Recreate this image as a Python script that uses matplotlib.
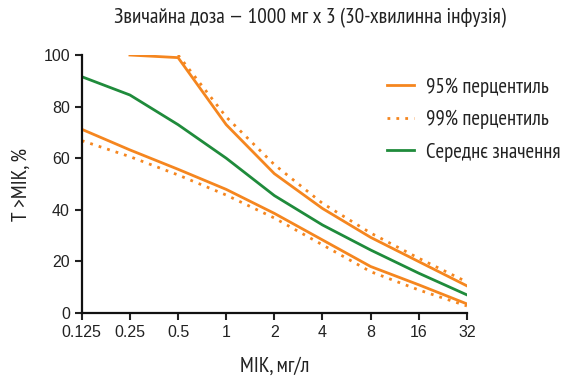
import matplotlib
matplotlib.use("Agg")
import matplotlib.pyplot as plt

narrow = ["PT Sans Narrow", "DejaVu Sans"]

mic = [0.125, 0.25, 0.5, 1, 2, 4, 8, 16, 32]
tick_labels = ["0.125", "0.25", "0.5", "1", "2", "4", "8", "16", "32"]

p95_upper_x = [0.25, 0.5, 1, 2, 4, 8, 16, 32]
p95_upper = [100, 99, 73, 54, 40.5, 29.3, 19.9, 10.5]
p99_upper_x = [0.5, 1, 2, 4, 8, 16, 32]
p99_upper = [100, 76, 57.5, 42.5, 31, 21.2, 12]
mean_vals = [91.6, 84.5, 73, 60, 45.5, 34.1, 24.4, 15.4, 7]
p95_lower = [71.2, 63.2, 55.7, 47.9, 38.6, 28.3, 18, 10.9, 3.5]
p99_lower = [66.8, 60.6, 53.5, 45.7, 36.8, 26.4, 16, 8.9, 2.7]

orange = "#F5861F"
green = "#1F8B3B"

fig = plt.figure(figsize=(5.68, 3.77), dpi=100)
ax = fig.add_axes([0.144, 0.170, 0.678, 0.684])

ax.plot(p95_upper_x, p95_upper, color=orange, lw=2, label="95% перцентиль")
ax.plot(p99_upper_x, p99_upper, color=orange, lw=2, ls=(0, (1, 2.2)), label="99% перцентиль")
ax.plot(mic, mean_vals, color=green, lw=2, label="Середнє значення")
ax.plot(mic, p95_lower, color=orange, lw=2)
ax.plot(mic, p99_lower, color=orange, lw=2, ls=(0, (1, 2.2)))

ax.set_xscale("log", base=2)
ax.set_xlim(0.125, 32)
ax.set_ylim(0, 100)
ax.set_xticks(mic)
ax.set_xticklabels(tick_labels)
ax.minorticks_off()
ax.set_yticks([0, 20, 40, 60, 80, 100])
ax.tick_params(axis="both", direction="out", length=5, width=1.5, labelsize=11.5, colors="#222222")
for lbl in ax.get_xticklabels() + ax.get_yticklabels():
    lbl.set_family("Liberation Sans")
for s in ["top", "right"]:
    ax.spines[s].set_visible(False)
for s in ["left", "bottom"]:
    ax.spines[s].set_linewidth(1.6)
    ax.spines[s].set_color("#111111")

ax.set_xlabel("MIK, мг/л", family=narrow, fontsize=15.5, labelpad=12, color="#222222")
ax.set_ylabel("T >MIK, %", family=narrow, fontsize=15.5, labelpad=9, color="#222222")

fig.text(0.546, 0.952, "Звичайна доза — 1000 мг х 3 (30-хвилинна інфузія)",
         family=narrow, fontsize=15.4, ha="center", va="center", color="#222222")

leg = fig.legend(loc="upper left", bbox_to_anchor=(0.681, 0.795), frameon=False,
                 prop={"family": narrow, "size": 15}, handlelength=1.3,
                 handletextpad=0.6, labelspacing=0.64, borderpad=0, borderaxespad=0)
for t in leg.get_texts():
    t.set_color("#222222")

fig.savefig("out.png", dpi=100)
